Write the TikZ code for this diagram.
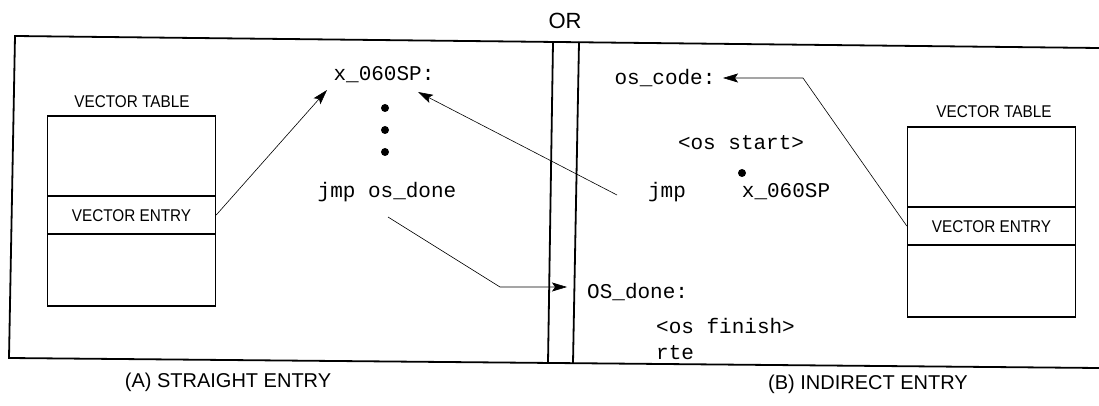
\documentclass[tikz,border=0pt]{standalone}
\usepackage{fontspec}
\setmainfont{Liberation Sans}
\setmonofont{Liberation Mono}
\usetikzlibrary{arrows.meta}
\begin{document}
\begin{tikzpicture}[x=1pt,y=-1pt,
  frame/.style={line width=1.8pt},
  tbl/.style={draw, line width=1.4pt, inner sep=0pt, minimum width=168pt},
  conn/.style={line width=0.6pt,-{Stealth[length=15pt,width=9pt,inset=3pt]}},
  code/.style={font=\fontsize{21}{24}\ttfamily, inner sep=0pt},
  lab/.style={font=\fontsize{17}{20}\selectfont, xscale=0.9, inner sep=0pt},
  captxt/.style={font=\fontsize{20}{24}\selectfont, inner sep=0pt},
  blob/.style={circle, fill=black, inner sep=0pt, minimum size=8pt}]
\useasboundingbox (0,0) rectangle (1099,406);
% frame
\draw[frame] (1099,48) -- (15,36) -- (9,358) -- (1099,368);
\draw[frame] (553,42) -- (548,363);
\draw[frame] (579,42) -- (573,363);
\node[captxt, font=\fontsize{22}{24}\selectfont] (or) at (565,21) {OR};
% left table
\node[lab] (vtL) at (132,102) {VECTOR TABLE};
\node[tbl, minimum height=80pt] (tL1) at (131.5,156) {};
\node[tbl, minimum height=38pt] (veL) at (131.5,215) {};
\node[lab] (veLt) at (131.5,216) {VECTOR ENTRY};
\node[tbl, minimum height=72pt] (tL3) at (131.5,270) {};
% right table
\node[lab] (vtR) at (994,112) {VECTOR TABLE};
\node[tbl, minimum height=80pt] (tR1) at (991.5,167) {};
\node[tbl, minimum height=38pt] (veR) at (991.5,226) {};
\node[lab] (veRt) at (991.5,227) {VECTOR ENTRY};
\node[tbl, minimum height=72pt] (tR3) at (991.5,281) {};
% left code
\node[code] (xsp) at (384,75) {x\_060SP:};
\node[blob] (d1) at (385,108) {};
\node[blob] (d2) at (385,130) {};
\node[blob] (d3) at (385,152) {};
\node[code] (jmpL) at (387,192) {jmp os\_done};
% right code
\node[code] (osc) at (665,78) {os\_code:};
\node[code] (oss) at (741,143) {<os start>};
\node[blob] (d4) at (742,173) {};
\node[code] (jmpR) at (667,192) {jmp};
\node[code] (xspR) at (786,192) {x\_060SP};
\node[code, anchor=west] (osd) at (587,292) {OS\_done:};
\node[code, anchor=west] (osf) at (656,326) {<os finish>};
\node[code, anchor=west] (rte) at (656,353) {rte};
% captions
\node[captxt] (ca) at (228,382) {(A) STRAIGHT ENTRY};
\node[captxt] (cb) at (868,384) {(B) INDIRECT ENTRY};
% connectors
\coordinate (t1) at (327,90);
\draw[conn] (veL.east) -- (t1);
\coordinate (s2) at (617,195);
\coordinate (t2) at (418,92);
\draw[conn] (s2) -- (t2);
\coordinate (s3) at (388,217);
\coordinate (b3) at (500,287);
\coordinate (t3) at (567,287);
\draw[conn] (s3) -- (b3) -- (t3);
\coordinate (b4) at (803,78);
\coordinate (t4) at (723,78);
\draw[conn] (veR.west) -- (b4) -- (t4);
\end{tikzpicture}
\end{document}
